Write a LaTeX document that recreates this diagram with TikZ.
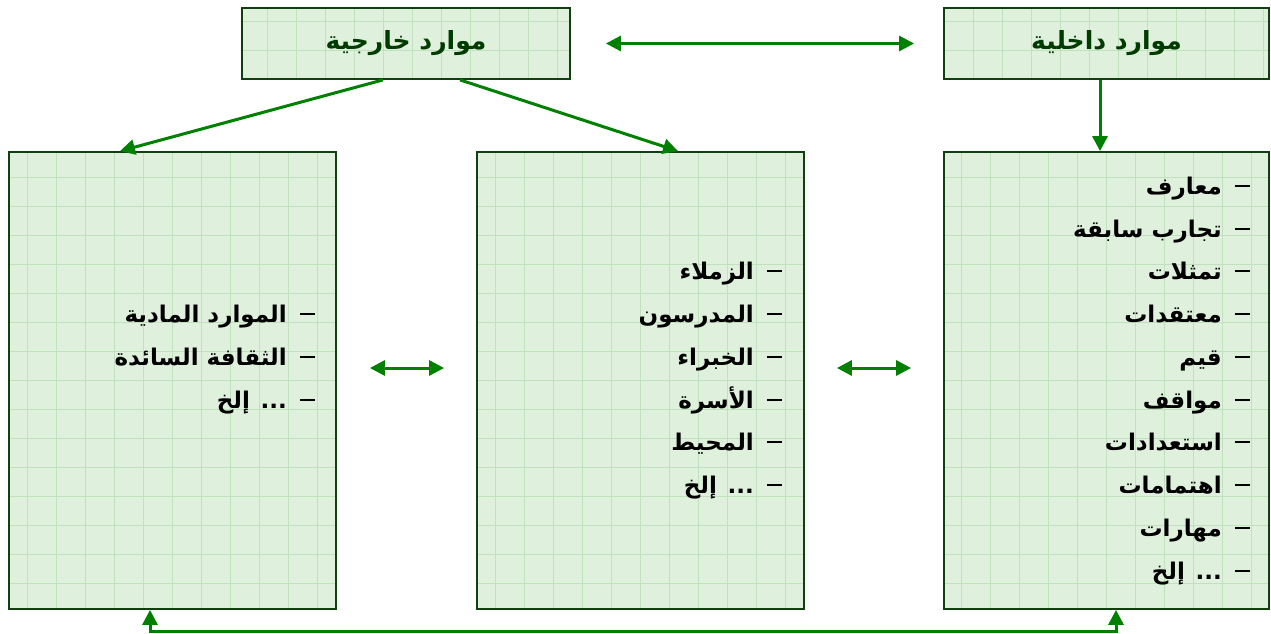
\documentclass[tikz,border=0pt]{standalone}
\usepackage{fontspec}
\usepackage{tikz}
\usetikzlibrary{arrows.meta,positioning}
\TeXXeTstate=1
\newfontfamily\arabicfont[Script=Arabic]{DejaVu Sans}

\definecolor{arrowgreen}{RGB}{0,128,0}
\definecolor{boxborder}{RGB}{16,64,16}
\definecolor{boxfill}{RGB}{223,240,221}
\definecolor{gridgreen}{RGB}{192,224,190}
\definecolor{titlegreen}{RGB}{0,60,0}

\newcommand{\itm}[1]{\beginR\rule[7pt]{15pt}{1.8pt}\hspace{13pt}#1\endR}

\begin{document}
\begin{tikzpicture}[x=1pt,y=-1pt,>={Triangle[width=15pt,length=15pt]},
  boxnode/.style={rectangle,draw=boxborder,line width=1.8pt,fill=boxfill,inner sep=0pt,
    path picture={\draw[gridgreen,line width=0.6pt] (path picture bounding box.south west) grid[step=29pt] (path picture bounding box.north east);}},
  titlenode/.style={text=titlegreen,font=\arabicfont\bfseries\fontsize{25}{29}\selectfont},
  itemnode/.style={anchor=base east,inner sep=0pt,font=\arabicfont\bfseries\fontsize{23}{27}\selectfont},
  arrowline/.style={arrowgreen,line width=3pt}]

\useasboundingbox (0,0) rectangle (1271,634);

% top row
\node [boxnode,titlenode,minimum width=328pt,minimum height=71pt] (ext) at (406,43.5) {\beginR موارد خارجية\endR};
\node [boxnode,titlenode,minimum width=325pt,minimum height=71pt] (int) at (1106.5,43.5) {\beginR موارد داخلية\endR};

% lower row
\node [boxnode,minimum width=327pt,minimum height=457pt] (l) at (172.5,380.5) {};
\node [boxnode,minimum width=327pt,minimum height=457pt] (m) at (640.5,380.5) {};
\node [boxnode,minimum width=325pt,minimum height=457pt] (r) at (1106.5,380.5) {};

% left list
\node [itemnode] (l1) at (315,322) {\itm{الموارد المادية}};
\node [itemnode] (l2) at (315,365) {\itm{الثقافة السائدة}};
\node [itemnode] (l3) at (315,408) {\itm{... إلخ}};

% middle list
\node [itemnode] (m1) at (782,279) {\itm{الزملاء}};
\node [itemnode] (m2) at (782,322) {\itm{المدرسون}};
\node [itemnode] (m3) at (782,365) {\itm{الخبراء}};
\node [itemnode] (m4) at (782,408) {\itm{الأسرة}};
\node [itemnode] (m5) at (782,450) {\itm{المحيط}};
\node [itemnode] (m6) at (782,493) {\itm{... إلخ}};

% right list
\node [itemnode] (r1) at (1250,194) {\itm{معارف}};
\node [itemnode] (r2) at (1250,237) {\itm{تجارب سابقة}};
\node [itemnode] (r3) at (1250,279) {\itm{تمثلات}};
\node [itemnode] (r4) at (1250,322) {\itm{معتقدات}};
\node [itemnode] (r5) at (1250,365) {\itm{قيم}};
\node [itemnode] (r6) at (1250,408) {\itm{مواقف}};
\node [itemnode] (r7) at (1250,450) {\itm{استعدادات}};
\node [itemnode] (r8) at (1250,493) {\itm{اهتمامات}};
\node [itemnode] (r9) at (1250,536) {\itm{مهارات}};
\node [itemnode] (r10) at (1250,579) {\itm{... إلخ}};

% connectors
\draw [arrowline,<->,shorten <=35pt,shorten >=29pt] (ext.east) to (int.west);
\draw [arrowline,->] ([xshift=-23pt]ext.south) to ([xshift=-52.5pt]l.north);
\draw [arrowline,->] ([xshift=54pt]ext.south) to ([xshift=37.5pt]m.north);
\draw [arrowline,->] ([xshift=-6.5pt]int.south) to ([xshift=-6.5pt]r.north);
\draw [arrowline,<->,shorten <=33pt,shorten >=32pt] ([yshift=12.5pt]l.east) to ([yshift=12.5pt]m.west);
\draw [arrowline,<->,shorten <=32pt,shorten >=32pt] ([yshift=12.5pt]m.east) to ([yshift=12.5pt]r.west);
\draw [arrowline,<->] ([xshift=-22.5pt]l.south) -- ++(0,22) -| ([xshift=9.5pt]r.south);
\end{tikzpicture}
\end{document}
